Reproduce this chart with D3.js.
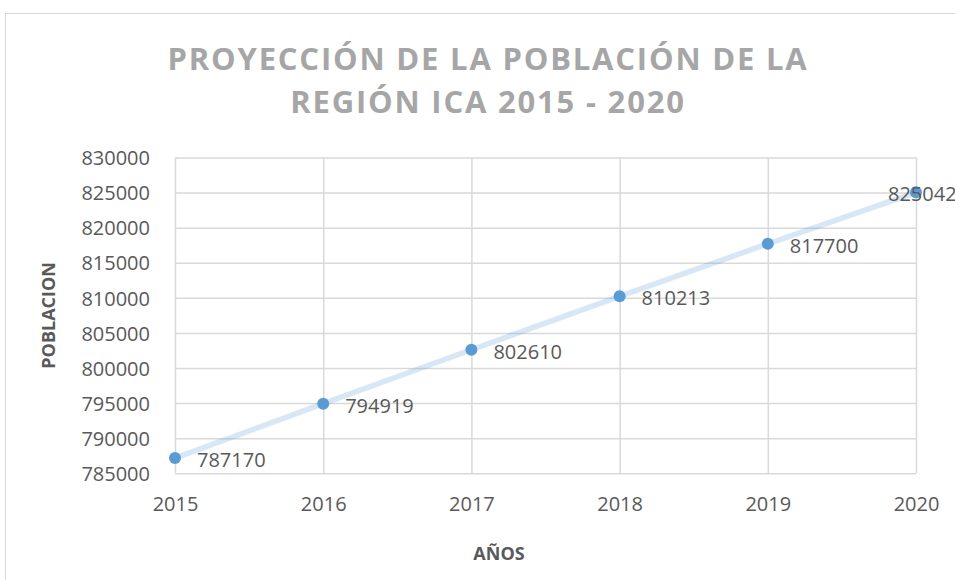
<!DOCTYPE html>
<html lang="en">
<head>
  <meta charset="UTF-8">
  <title>Proyeccion poblacion Ica</title>
  <script src="https://cdn.jsdelivr.net/npm/d3@7/dist/d3.min.js"></script>
<style>
  body { margin: 0; background: #fff; }
  text { font-family: "Open Sans", "Liberation Sans", sans-serif; }
</style>
</head>

<body>
  <script>
    var years = [2015, 2016, 2017, 2018, 2019, 2020];
    var population = [787170, 794919, 802610, 810213, 817700, 825042];
    var yTicks = [785000, 790000, 795000, 800000, 805000, 810000, 815000, 820000, 825000, 830000];
    var titleLines = ['PROYECCIÓN DE LA POBLACIÓN DE LA', 'REGIÓN ICA 2015 - 2020'];

    var w = 955;
    var h = 580;
    // plot area edges (don't use "top" - it's window.top)
    var pLeft = 175, pRight = 916, pTop = 157.5, pBottom = 473.3;

    var svg = d3.select('body')
                .append('svg')
                .attr('width', w)
                .attr('height', h);

    // chart border
    svg.append('rect')
      .attr('x', 5.5).attr('y', 13.5)
      .attr('width', 960).attr('height', 600)
      .attr('fill', 'none')
      .attr('stroke', '#d9d9d9')
      .attr('stroke-width', 1);

    var x = d3.scaleLinear().domain([2015, 2020]).range([pLeft, pRight]);
    var y = d3.scaleLinear().domain([785000, 830000]).range([pBottom, pTop]);

    // horizontal grid
    svg.append('g')
      .attr('transform', `translate(${pLeft},0)`)
      .call(d3.axisLeft(y).tickValues(yTicks).tickSize(-(pRight - pLeft)).tickFormat(''))
      .call(g => g.select('.domain').remove())
      .call(g => g.selectAll('line').attr('stroke', '#d9d9d9').attr('stroke-width', 1.5));

    // vertical grid
    svg.append('g')
      .attr('transform', `translate(0,${pBottom})`)
      .call(d3.axisBottom(x).tickValues(years).tickSize(-(pBottom - pTop)).tickFormat(''))
      .call(g => g.select('.domain').remove())
      .call(g => g.selectAll('line').attr('stroke', '#d9d9d9').attr('stroke-width', 1.5));

    // y tick labels
    svg.append('g')
      .attr('transform', `translate(${pLeft - 22},0)`)
      .call(d3.axisLeft(y).tickValues(yTicks).tickSize(0).tickFormat(d3.format('d')))
      .call(g => g.select('.domain').remove())
      .call(g => g.selectAll('text')
        .attr('fill', '#595959')
        .attr('font-size', '20px')
        .attr('dy', '0.36em'));

    // x tick labels
    svg.append('g')
      .attr('transform', `translate(0,${pBottom + 20})`)
      .call(d3.axisBottom(x).tickValues(years).tickSize(0).tickFormat(d3.format('d')))
      .call(g => g.select('.domain').remove())
      .call(g => g.selectAll('text')
        .attr('fill', '#595959')
        .attr('font-size', '20px'));

    // line + points (line is a faint translucent blue, grid shows through)
    var pts = years.map((d, i) => [d, population[i]]);
    svg.append('path')
      .datum(pts)
      .attr('d', d3.line().x(d => x(d[0])).y(d => y(d[1])))
      .attr('fill', 'none')
      .attr('stroke', '#5b9bd5')
      .attr('stroke-opacity', 0.24)
      .attr('stroke-width', 5.5);

    svg.selectAll('circle.pt')
      .data(pts)
      .enter()
      .append('circle')
      .attr('class', 'pt')
      .attr('cx', d => x(d[0]))
      .attr('cy', d => y(d[1]))
      .attr('r', 6)
      .attr('fill', '#5b9bd5');

    // data labels (last one sits over its point, like the original)
    svg.selectAll('text.lbl')
      .data(pts)
      .enter()
      .append('text')
      .attr('class', 'lbl')
      .text(d => d[1])
      .attr('x', (d, i) => i === pts.length - 1 ? x(d[0]) - 28 : x(d[0]) + 22)
      .attr('y', d => y(d[1]) + 9)
      .attr('font-size', '20px')
      .attr('fill', '#595959');

    // title
    svg.selectAll('text.title')
      .data(titleLines)
      .enter()
      .append('text')
      .attr('class', 'title')
      .text(d => d)
      .attr('x', 488)
      .attr('y', (d, i) => 70 + i * 43)
      .attr('text-anchor', 'middle')
      .attr('font-size', '31px')
      .attr('font-weight', 'bold')
      .attr('letter-spacing', '1.8px')
      .attr('fill', '#a6a6a6');

    // axis titles
    svg.append('text')
      .text('POBLACION')
      .attr('transform', `translate(55,${(pTop + pBottom) / 2}) rotate(-90)`)
      .attr('text-anchor', 'middle')
      .attr('font-size', '18px')
      .attr('font-weight', 'bold')
      .attr('fill', '#595959');

    svg.append('text')
      .text('AÑOS')
      .attr('x', 499)
      .attr('y', 560)
      .attr('text-anchor', 'middle')
      .attr('font-size', '18px')
      .attr('font-weight', 'bold')
      .attr('fill', '#595959');
  </script>
</body>
</html>
